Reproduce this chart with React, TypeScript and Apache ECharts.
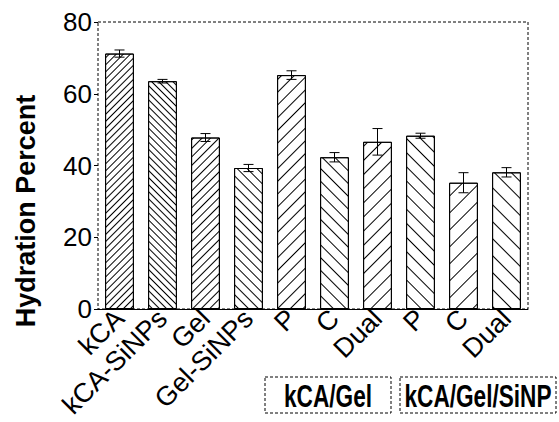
import React, { useEffect, useRef } from "react";
import * as echarts from "echarts";

const categories = ["kCA", "kCA-SiNPs", "Gel", "Gel-SiNPs", "P", "C", "Dual", "P", "C", "Dual"];
const hydration = [71.2, 63.5, 47.8, 39.3, 65.2, 42.3, 46.6, 48.3, 35.2, 38.1];
const errors = [1.0, 0.5, 1.1, 1.0, 1.2, 1.3, 3.7, 0.7, 2.8, 1.3];
const groupLabels = ["kCA/Gel", "kCA/Gel/SiNP"];
const yTitle = "Hydration Percent";
// hatch direction (1 = "/", -1 = "\") and spacing
const hatchDir = [1, -1, 1, -1, 1, -1, 1, -1, 1, -1];
const hatchGap = [4, 4, 5, 6, 8, 8, 9, 9, 11, 11];

const FONT = '"Liberation Sans", Arial, Helvetica, sans-serif';

export default function App() {
  const ref = useRef<HTMLDivElement>(null);
  useEffect(() => {
    if (!ref.current) return;
    const chart = echarts.init(ref.current, undefined, { renderer: "svg" });
    const gridL = 98, gridT = 22, gridR = 528, gridB = 309;
    const boxText = (text: string, x: number) => ({
      type: "text",
      x,
      y: 396,
      scaleX: 0.73,
      style: {
        text,
        fontSize: 31,
        fontWeight: "bold",
        fontFamily: FONT,
        fill: "#000",
        align: "center",
        verticalAlign: "middle",
      },
    });
    chart.setOption({
      animation: false,
      backgroundColor: "#fff",
      grid: { left: gridL, top: gridT, right: 559 - gridR, bottom: 422 - gridB },
      xAxis: {
        type: "category",
        data: categories,
        axisLine: { lineStyle: { color: "#000", width: 1 } },
        axisTick: { show: false },
        axisLabel: {
          interval: 0,
          rotate: 45,
          color: "#000",
          fontSize: 27,
          fontFamily: FONT,
          margin: 5,
        },
      },
      yAxis: {
        type: "value",
        min: 0,
        max: 80,
        interval: 20,
        axisLine: { show: false },
        axisTick: { show: true, length: 4, lineStyle: { color: "#000" } },
        splitLine: { show: false },
        axisLabel: { color: "#000", fontSize: 26, fontFamily: FONT, margin: 6 },
      },
      series: [
        {
          type: "bar",
          barWidth: "67%",
          data: hydration.map((v, i) => ({
            value: v,
            itemStyle: {
              color: "#fff",
              borderColor: "#000",
              borderWidth: 1,
              decal: {
                symbol: "rect",
                symbolSize: 1,
                color: "#000",
                dashArrayX: [1, 0],
                dashArrayY: [1, hatchGap[i]],
                rotation: -hatchDir[i] * Math.PI / 4,
              },
            },
          })),
        },
        {
          type: "custom",
          data: hydration.map((v, i) => [i, v - errors[i], v + errors[i]]),
          renderItem: (params: any, api: any) => {
            const x = api.value(0);
            const lo = api.coord([x, api.value(1)]);
            const hi = api.coord([x, api.value(2)]);
            const cap = 5;
            const style = { stroke: "#000", lineWidth: 1 };
            return {
              type: "group",
              children: [
                { type: "line", shape: { x1: hi[0], y1: lo[1], x2: hi[0], y2: hi[1] }, style },
                { type: "line", shape: { x1: hi[0] - cap, y1: hi[1], x2: hi[0] + cap, y2: hi[1] }, style },
                { type: "line", shape: { x1: lo[0] - cap, y1: lo[1], x2: lo[0] + cap, y2: lo[1] }, style },
              ],
            };
          },
          z: 5,
        },
      ],
      graphic: [
        {
          type: "rect",
          shape: { x: gridL, y: gridT, width: gridR - gridL, height: gridB - gridT },
          style: { fill: "none", stroke: "#000", lineWidth: 1, lineDash: [3, 2] },
          silent: true,
        },
        {
          type: "text",
          x: 26,
          y: 211,
          rotation: Math.PI / 2,
          style: {
            text: yTitle,
            fontSize: 27,
            fontWeight: "bold",
            fontFamily: FONT,
            fill: "#000",
            align: "center",
            verticalAlign: "middle",
          },
        },
        {
          type: "rect",
          shape: { x: 265, y: 377, width: 126, height: 36 },
          style: { fill: "#fff", stroke: "#000", lineWidth: 1, lineDash: [3, 2] },
        },
        boxText(groupLabels[0], 328),
        {
          type: "rect",
          shape: { x: 400, y: 377, width: 156, height: 36 },
          style: { fill: "#fff", stroke: "#000", lineWidth: 1, lineDash: [3, 2] },
        },
        boxText(groupLabels[1], 478),
      ],
    });
    return () => chart.dispose();
  }, []);
  return <div ref={ref} style={{ width: 559, height: 422, position: "absolute", left: 0, top: 0 }} />;
}
